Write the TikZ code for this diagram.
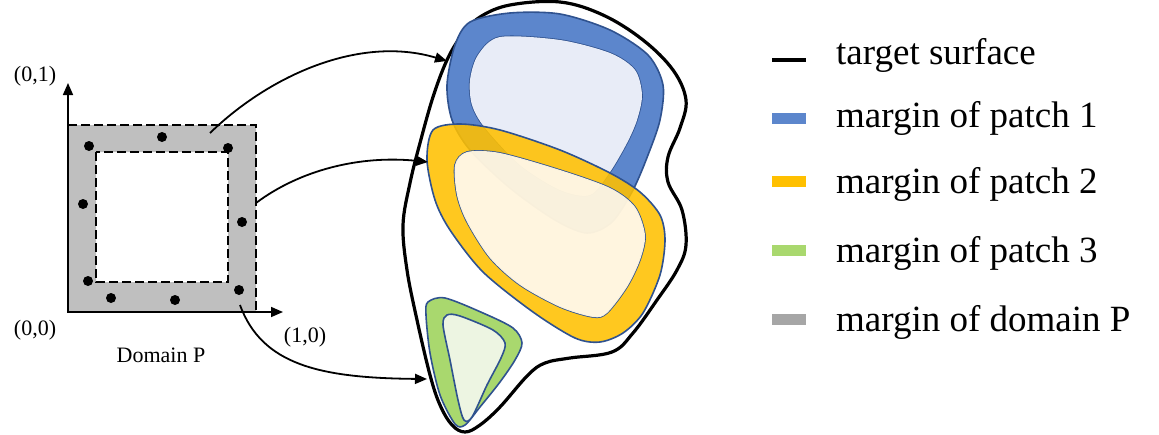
\documentclass[tikz,border=0pt]{standalone}
\usepackage{fontspec}
\setmainfont{Liberation Serif}
\usetikzlibrary{arrows.meta}

\definecolor{rimblue}{RGB}{47,82,143}
\definecolor{patchblue}{RGB}{92,134,204}
\definecolor{paleblue}{RGB}{232,236,247}
\definecolor{patchyellow}{RGB}{255,192,0}
\definecolor{paleyellow}{RGB}{255,245,222}
\definecolor{patchgreen}{RGB}{169,216,110}
\definecolor{palegreen}{RGB}{237,245,226}
\definecolor{domaingray}{RGB}{191,191,191}
\definecolor{keygray}{RGB}{166,166,166}

\begin{document}
\begin{tikzpicture}[x=1pt, y=-1pt,
    smalltext/.style={font=\fontsize{22}{26}\selectfont, inner sep=0pt},
    keytext/.style={font=\fontsize{37}{42}\selectfont, anchor=west, inner sep=0pt},
    pt/.style={circle, fill=black, minimum size=10pt, inner sep=0pt},
    rim/.style={draw=rimblue, line width=1.6pt},
    maparrow/.style={-{Triangle[length=12pt,width=10pt]}, line width=1.8pt},
    keybar/.style={line width=11pt}]
\useasboundingbox (0,0) rectangle (1159,434);

% domain P with its margin
\fill [domaingray, even odd rule] (68,125) rectangle (256,312) (96,152) rectangle (228,282);
\draw [dash pattern=on 9pt off 4pt, line width=2.2pt] (68,125) rectangle (256,312);
\draw [dash pattern=on 9pt off 4pt, line width=2.2pt] (96,152) rectangle (228,282);

\coordinate (origin) at (68,312);
\coordinate (ytip) at (68,83);
\coordinate (xtip) at (283,312);
\draw [-{Triangle[length=12pt,width=10pt]}, line width=1.6pt] (origin) -- (ytip);
\draw [-{Triangle[length=12pt,width=10pt]}, line width=1.6pt] (origin) -- (xtip);

\node [smalltext] (lab01) at (35,76) {(0,1)};
\node [smalltext] (lab00) at (35,330) {(0,0)};
\node [smalltext] (lab10) at (305,337) {(1,0)};
\node [smalltext] (domain) at (161,355) {Domain P};

\foreach \px/\py [count=\i] in {89/146, 162/137, 228/148, 83/204, 242/222, 88/281, 111/298, 175/300, 239/290}
    \node [pt] (s\i) at (\px,\py) {};

% target surface
\draw [line width=3.2pt] plot [smooth cycle, tension=0.6] coordinates {
    (560,2) (603,15) (643,40) (673,70) (686,100) (680,128) (668,157) (668,182)
    (682,210) (686,245) (677,270) (657,300) (633,333) (612,352) (570,358)
    (545,363) (528,375) (500,407) (480,425) (465,432) (452,425) (440,405)
    (430,375) (417,320) (407,270) (403,225) (410,183) (420,143) (433,97)
    (447,60) (462,35) (480,17) (510,5)};

% patch 1
\path [fill=patchblue, rim, even odd rule]
    plot [smooth cycle] coordinates {
        (470,22) (510,13) (560,14) (610,30) (648,55) (663,85) (660,120) (648,155)
        (633,190) (612,222) (587,233) (555,220) (510,188) (470,150) (452,120)
        (447,85) (455,45)}
    plot [smooth cycle] coordinates {
        (500,37) (560,40) (610,53) (635,70) (642,95) (637,120) (627,143) (610,172)
        (590,195) (560,190) (520,165) (485,128) (472,105) (470,80) (478,55)};
\path [fill=paleblue] plot [smooth cycle] coordinates {
        (500,37) (560,40) (610,53) (635,70) (642,95) (637,120) (627,143) (610,172)
        (590,195) (560,190) (520,165) (485,128) (472,105) (470,80) (478,55)};

% patch 2
\path [fill=patchyellow, fill opacity=0.88, rim, even odd rule]
    plot [smooth cycle] coordinates {
        (433,130) (460,124) (500,130) (560,150) (610,173) (640,192) (660,215)
        (665,240) (660,275) (643,313) (623,333) (600,342) (575,338) (533,312)
        (483,272) (450,230) (435,200) (427,160)}
    plot [smooth cycle] coordinates {
        (467,152) (500,153) (560,170) (610,188) (635,207) (645,235) (640,260)
        (627,287) (607,313) (593,317) (560,307) (520,285) (490,258) (467,222)
        (457,195) (455,165)};
\path [fill=paleyellow, fill opacity=0.97] plot [smooth cycle] coordinates {
        (467,152) (500,153) (560,170) (610,188) (635,207) (645,235) (640,260)
        (627,287) (607,313) (593,317) (560,307) (520,285) (490,258) (467,222)
        (457,195) (455,165)};

% patch 3
\path [fill=patchgreen, rim] plot [smooth cycle] coordinates {
    (428,302) (445,298) (483,313) (513,328) (522,343) (515,360) (500,382)
    (480,407) (465,425) (455,424) (440,395) (430,353) (426,315)};
\path [fill=palegreen, rim] plot [smooth cycle] coordinates {
    (447,315) (460,316) (493,330) (505,343) (501,358) (487,385) (472,417)
    (464,420) (458,400) (450,360) (443,325)};

% mappings from the margin of P
\coordinate (from1) at (210,133);
\coordinate (to1) at (447,61);
\coordinate (from2) at (256,203);
\coordinate (to2) at (428,162);
\coordinate (from3) at (240,305);
\coordinate (to3) at (427,379);
\draw [maparrow] (from1) .. controls (270,75) and (360,35) .. (to1);
\draw [maparrow] (from2) .. controls (300,170) and (360,155) .. (to2);
\draw [maparrow] (from3) .. controls (262,365) and (320,378) .. (to3);

% legend
\draw [line width=4pt] (772,60) -- (806,60);
\draw [keybar, patchblue] (772,118) -- (806,118);
\draw [keybar, patchyellow] (772,181) -- (806,181);
\draw [keybar, patchgreen] (772,250) -- (806,250);
\draw [keybar, keygray] (772,319) -- (806,319);
\node [keytext] (key0) at (836,55) {target surface};
\node [keytext] (key1) at (836,118) {margin of patch 1};
\node [keytext] (key2) at (836,184) {margin of patch 2};
\node [keytext] (key3) at (836,253) {margin of patch 3};
\node [keytext] (key4) at (836,322) {margin of domain P};
\end{tikzpicture}
\end{document}
